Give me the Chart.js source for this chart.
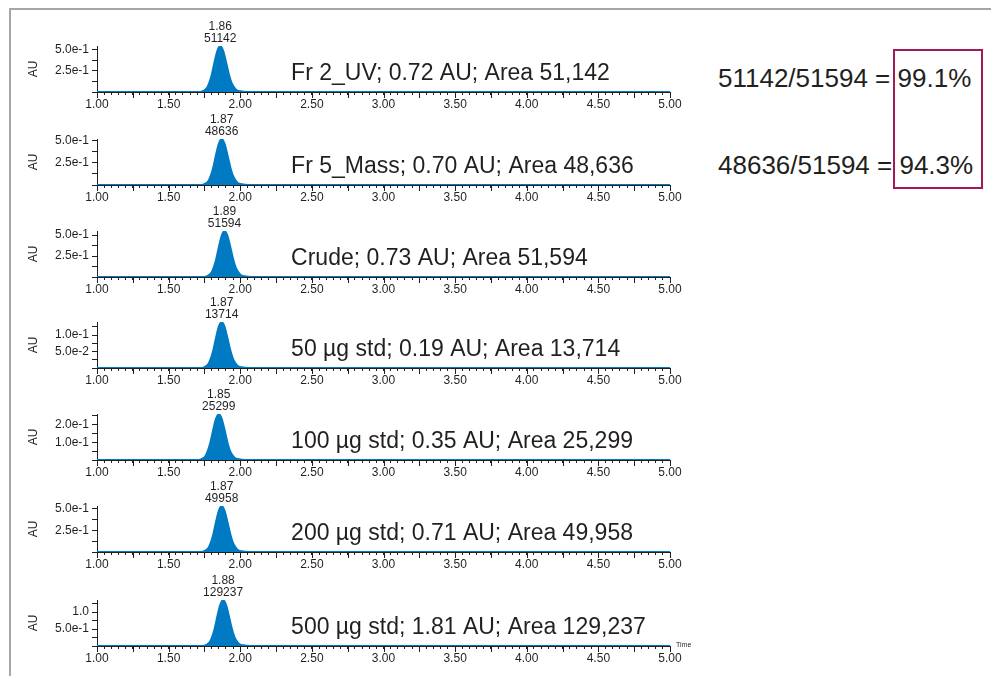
<!DOCTYPE html>
<html>
<head>
<meta charset="utf-8">
<script src="https://cdn.jsdelivr.net/npm/chart.js@4.4.1/dist/chart.umd.min.js"></script>
<style>
body { margin: 0; background: #fff; }
#wrap { position: relative; width: 991px; height: 676px; overflow: hidden;
  font-family: "Liberation Sans", Arial, sans-serif; color: #231f20; }
#frame { position: absolute; left: 9px; top: 8px; width: 1000px; height: 700px;
  border-top: 2px solid #a6a6a6; border-left: 2px solid #a6a6a6; }
#wrap canvas { position: absolute; left: 0; }
.ratio { position: absolute; left: 718px; font-size: 26px; line-height: 30px; white-space: nowrap; }
#box { position: absolute; left: 893px; top: 49px; width: 86px; height: 136px; border: 2px solid #a3195b; }
</style>
</head>
<body>
<div id="wrap">
  <div id="frame"></div>
  <div class="ratio" style="top:63px">51142/51594 = 99.1%</div>
  <div class="ratio" style="top:150px">48636/51594 = 94.3%</div>
  <div id="box"></div>
</div>
<script>
// panels, top to bottom
const panelNames = ["Fr 2_UV", "Fr 5_Mass", "Crude", "50 µg std", "100 µg std", "200 µg std", "500 µg std"];
const panelAU = ["0.72", "0.70", "0.73", "0.19", "0.35", "0.71", "1.81"];
const panelArea = [51142, 48636, 51594, 13714, 25299, 49958, 129237];
const peakRT = ["1.86", "1.87", "1.89", "1.87", "1.85", "1.87", "1.88"];
const yMax = [0.54, 0.52, 0.55, 0.14, 0.26, 0.53, 1.36];

// y tick labels (major) and minor tick step
const yMajorValues = [[0.25, 0.5], [0.25, 0.5], [0.25, 0.5], [0.05, 0.1], [0.1, 0.2], [0.25, 0.5], [0.5, 1.0]];
const yMajorLabels = [["2.5e-1", "5.0e-1"], ["2.5e-1", "5.0e-1"], ["2.5e-1", "5.0e-1"],
  ["5.0e-2", "1.0e-1"], ["1.0e-1", "2.0e-1"], ["2.5e-1", "5.0e-1"], ["5.0e-1", "1.0"]];
const yMinorStep = [0.125, 0.125, 0.125, 0.025, 0.05, 0.125, 0.25];

// x axis (time, min)
const xTickLabels = ["1.00", "1.50", "2.00", "2.50", "3.00", "3.50", "4.00", "4.50", "5.00"];

// traces (time, AU)
const trace1Time = [1.00, 1.72, 1.74, 1.77, 1.80, 1.82, 1.84, 1.86, 1.88, 1.90, 1.92, 1.94, 1.97, 2.00, 2.05, 5.00];
const trace1AU = [0, 0, 0.011, 0.054, 0.194, 0.346, 0.481, 0.54, 0.486, 0.356, 0.211, 0.103, 0.027, 0.008, 0, 0];
const trace2Time = [1.00, 1.73, 1.75, 1.78, 1.81, 1.83, 1.85, 1.87, 1.89, 1.91, 1.93, 1.95, 1.98, 2.01, 2.06, 5.00];
const trace2AU = [0, 0, 0.010, 0.052, 0.187, 0.333, 0.463, 0.52, 0.468, 0.343, 0.203, 0.099, 0.026, 0.008, 0, 0];
const trace3Time = [1.00, 1.75, 1.77, 1.80, 1.83, 1.85, 1.87, 1.89, 1.91, 1.93, 1.95, 1.97, 2.00, 2.03, 2.08, 5.00];
const trace3AU = [0, 0, 0.011, 0.055, 0.198, 0.352, 0.490, 0.55, 0.495, 0.363, 0.215, 0.105, 0.028, 0.008, 0, 0];
const trace4Time = [1.00, 1.73, 1.75, 1.78, 1.81, 1.83, 1.85, 1.87, 1.89, 1.91, 1.93, 1.95, 1.98, 2.01, 2.06, 5.00];
const trace4AU = [0, 0, 0.003, 0.014, 0.050, 0.090, 0.125, 0.14, 0.126, 0.092, 0.055, 0.027, 0.007, 0.002, 0, 0];
const trace5Time = [1.00, 1.71, 1.73, 1.76, 1.79, 1.81, 1.83, 1.85, 1.87, 1.89, 1.91, 1.93, 1.96, 1.99, 2.04, 5.00];
const trace5AU = [0, 0, 0.005, 0.026, 0.094, 0.166, 0.231, 0.26, 0.234, 0.172, 0.101, 0.049, 0.013, 0.004, 0, 0];
const trace6Time = [1.00, 1.73, 1.75, 1.78, 1.81, 1.83, 1.85, 1.87, 1.89, 1.91, 1.93, 1.95, 1.98, 2.01, 2.06, 5.00];
const trace6AU = [0, 0, 0.011, 0.053, 0.191, 0.339, 0.472, 0.53, 0.477, 0.350, 0.207, 0.101, 0.027, 0.008, 0, 0];
const trace7Time = [1.00, 1.74, 1.76, 1.79, 1.82, 1.84, 1.86, 1.88, 1.90, 1.92, 1.94, 1.96, 1.99, 2.02, 2.07, 5.00];
const trace7AU = [0, 0, 0.027, 0.136, 0.490, 0.870, 1.210, 1.36, 1.224, 0.898, 0.530, 0.258, 0.068, 0.020, 0, 0];

const traceTime = [trace1Time, trace2Time, trace3Time, trace4Time, trace5Time, trace6Time, trace7Time];
const traceAU = [trace1AU, trace2AU, trace3AU, trace4AU, trace5AU, trace6AU, trace7AU];

const BLUE = "rgb(0,122,194)";
const INK = "#231f20";
const FONT = "'Liberation Sans', Arial, sans-serif";
const baseY = [92, 185, 277, 368, 460, 552, 646];

// peak labels, long caption, longer ticks every 0.25 min, "Time"
const panelDeco = {
  id: "panelDeco",
  afterDraw(chart, args, o) {
    const c = chart.ctx, xs = chart.scales.x, ys = chart.scales.y, i = o.idx;
    const area = chart.chartArea;
    c.save();
    c.strokeStyle = INK;
    c.lineWidth = 1;
    for (let k = 0; k <= 16; k++) {
      const px = Math.round(xs.getPixelForValue(1 + k * 0.25)) + 0.5;
      c.beginPath();
      c.moveTo(px, area.bottom);
      c.lineTo(px, area.bottom + 6);
      c.stroke();
    }
    c.fillStyle = INK;
    c.textAlign = "center";
    c.textBaseline = "middle";
    c.font = "12px " + FONT;
    const px = xs.getPixelForValue(parseFloat(peakRT[i]));
    const top = ys.getPixelForValue(yMax[i]);
    c.fillText(String(panelArea[i]), px, top - 7);
    c.fillText(peakRT[i], px, top - 19);
    c.textAlign = "left";
    c.font = "23px " + FONT;
    const cap = panelNames[i] + "; " + panelAU[i] + " AU; Area " + panelArea[i].toLocaleString("en-US");
    c.fillText(cap, xs.getPixelForValue(2.355), area.bottom - 18);
    if (i === 6) {
      c.font = "7px " + FONT;
      c.fillText("Time", area.right + 6, area.bottom - 1);
    }
    c.restore();
  }
};

function makePanel(i) {
  const cv = document.createElement("canvas");
  cv.width = 991;
  cv.height = 110;
  cv.style.top = (baseY[i] - 80) + "px";
  document.getElementById("wrap").appendChild(cv);
  const pts = traceTime[i].map((t, k) => ({ x: t, y: traceAU[i][k] }));
  return new Chart(cv, {
    type: "line",
    data: {
      datasets: [{
        data: pts,
        borderColor: BLUE,
        backgroundColor: BLUE,
        borderWidth: 2,
        fill: "origin",
        pointRadius: 0,
        cubicInterpolationMode: "monotone",
      }],
    },
    options: {
      responsive: false,
      animation: false,
      events: [],
      layout: { padding: { left: 22, right: 321, top: 34, bottom: 0 } },
      plugins: { legend: { display: false }, tooltip: { enabled: false }, panelDeco: { idx: i } },
      scales: {
        x: {
          type: "linear",
          min: 1,
          max: 5,
          afterFit: (s) => { s.height = 30; },
          afterBuildTicks: (s) => {
            const t = [];
            for (let k = 0; k <= 80; k++) t.push({ value: Math.round((1 + k * 0.05) * 100) / 100 });
            s.ticks = t;
          },
          ticks: {
            autoSkip: false,
            maxRotation: 0,
            padding: 2,
            color: INK,
            font: { size: 12, family: FONT },
            callback: (v, k) => (k % 10 === 0 ? xTickLabels[k / 10] : ""),
          },
          grid: { drawOnChartArea: false, tickLength: 3, color: INK },
          border: { color: INK },
        },
        y: {
          min: 0,
          max: yMax[i],
          afterFit: (s) => { s.width = 75; },
          afterBuildTicks: (s) => {
            const t = [];
            for (let k = 0; k * yMinorStep[i] <= yMax[i] + 1e-9; k++) t.push({ value: k * yMinorStep[i] });
            s.ticks = t;
          },
          ticks: {
            autoSkip: false,
            padding: 3,
            color: INK,
            font: { size: 12, family: FONT },
            callback: (v) => {
              const j = yMajorValues[i].findIndex((m) => Math.abs(m - v) < 1e-9);
              return j < 0 ? "" : yMajorLabels[i][j];
            },
          },
          title: { display: true, text: "AU", color: INK, font: { size: 12, family: FONT }, padding: { top: 4, bottom: 0 } },
          grid: { drawOnChartArea: false, tickLength: 5, color: INK },
          border: { color: INK },
        },
      },
    },
    plugins: [panelDeco],
  });
}

for (let i = 0; i < panelNames.length; i++) makePanel(i);
</script>
</body>
</html>
